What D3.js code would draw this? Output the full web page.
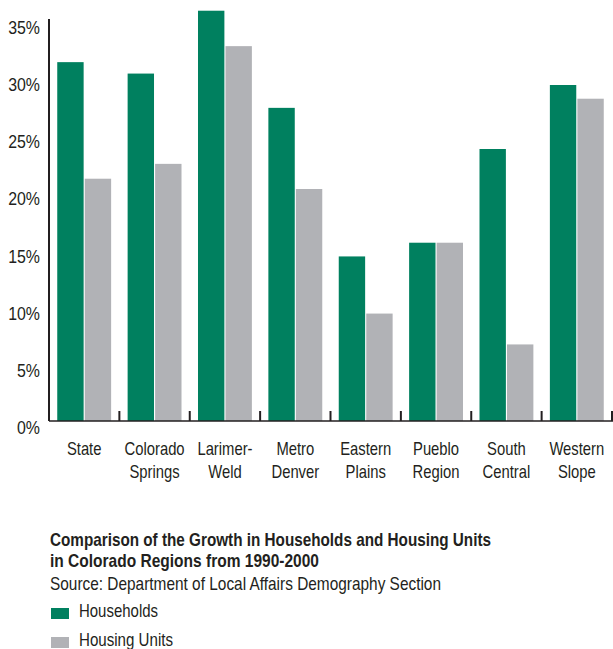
<!DOCTYPE html>
<html>
<head>
<meta charset="utf-8">
<script src="https://cdn.jsdelivr.net/npm/d3@7"></script>
<style>
  body { margin: 0; background: #fff; }
  svg text { font-family: "Liberation Sans", Arial, sans-serif; fill: #231f20; }
</style>
</head>
<body>
<svg id="chart"></svg>
<script>
// data
const regions = ["State", "Colorado Springs", "Larimer-Weld", "Metro Denver", "Eastern Plains", "Pueblo Region", "South Central", "Western Slope"];
const regionLines = [["State"], ["Colorado", "Springs"], ["Larimer-", "Weld"], ["Metro", "Denver"], ["Eastern", "Plains"], ["Pueblo", "Region"], ["South", "Central"], ["Western", "Slope"]];
const households = [31.4, 30.4, 35.9, 27.4, 14.4, 15.6, 23.8, 29.4];
const housingUnits = [21.2, 22.5, 32.8, 20.3, 9.4, 15.6, 6.7, 28.2];
const yTicks = [0, 5, 10, 15, 20, 25, 30, 35];
const seriesNames = ["Households", "Housing Units"];
const colors = ["#00805f", "#b1b2b6"];

const W = 613, H = 649;
const margin = { top: 19, left: 49, right: 1 };
const baseY = 421;

const svg = d3.select("#chart").attr("width", W).attr("height", H);

// scales
const x0 = d3.scaleBand()
    .domain(regions)
    .range([margin.left, W - margin.right])
    .paddingInner(0)
    .paddingOuter(0);

const x1 = d3.scaleBand()
    .domain(seriesNames)
    .range([0, x0.bandwidth()])
    .paddingInner(0.04)
    .paddingOuter(0.3);

const y = d3.scaleLinear().domain([0, 35]).range([baseY, baseY - 400]);

// bars
const groups = svg.append("g").selectAll("g")
    .data(regions)
    .enter().append("g")
    .attr("transform", d => `translate(${x0(d)},0)`);

groups.selectAll("rect")
    .data((d, i) => [households[i], housingUnits[i]].map((v, j) => ({ key: seriesNames[j], v, j })))
    .enter().append("rect")
    .attr("x", d => x1(d.key))
    .attr("y", d => y(d.v))
    .attr("width", x1.bandwidth())
    .attr("height", d => baseY - y(d.v))
    .attr("fill", d => colors[d.j]);

// axes
svg.append("line")
    .attr("x1", margin.left).attr("x2", margin.left)
    .attr("y1", margin.top).attr("y2", baseY)
    .attr("stroke", "#231f20").attr("stroke-width", 2);

svg.append("line")
    .attr("x1", margin.left).attr("x2", W)
    .attr("y1", baseY).attr("y2", baseY)
    .attr("stroke", "#231f20").attr("stroke-width", 1.5);

// tick marks at group boundaries
const boundaries = regions.map(r => x0(r)).concat([x0.range()[1]]);
svg.selectAll(".tick-mark")
    .data(boundaries)
    .enter().append("line")
    .attr("class", "tick-mark")
    .attr("x1", d => d).attr("x2", d => d)
    .attr("y1", baseY).attr("y2", baseY - 10)
    .attr("stroke", "#231f20").attr("stroke-width", 2);

// y labels (narrowed, the original face is condensed)
svg.selectAll(".ylab")
    .data(yTicks)
    .enter().append("text")
    .attr("class", "ylab")
    .attr("transform", d => `translate(40,${y(d) + 13}) scale(0.86,1)`)
    .attr("text-anchor", "end")
    .style("font-size", "18.5px")
    .text(d => d + "%");

// x labels
svg.selectAll(".xlab")
    .data(regionLines)
    .enter().append("g")
    .attr("class", "xlab")
    .attr("transform", (d, i) => `translate(${x0(regions[i]) + x0.bandwidth() / 2},0)`)
    .selectAll("text")
    .data(d => d)
    .enter().append("text")
    .attr("text-anchor", "middle")
    .attr("transform", (d, k) => `translate(0,${455 + k * 22.5}) scale(0.8,1)`)
    .style("font-size", "18.5px")
    .text(d => d);

// title + source
const notes = [
    { t: "Comparison of the Growth in Households and Housing Units", y: 546, w: 441, bold: true },
    { t: "in Colorado Regions from 1990-2000", y: 567, w: 269, bold: true },
    { t: "Source: Department of Local Affairs Demography Section", y: 590, w: 391, bold: false }
];
svg.selectAll(".note")
    .data(notes)
    .enter().append("text")
    .attr("class", "note")
    .attr("x", 50).attr("y", d => d.y)
    .attr("textLength", d => d.w)
    .attr("lengthAdjust", "spacingAndGlyphs")
    .style("font-size", "19px")
    .style("font-weight", d => d.bold ? "bold" : "normal")
    .text(d => d.t);

// legend
const legendW = [79, 94];
const legend = svg.selectAll(".legend")
    .data(seriesNames)
    .enter().append("g")
    .attr("class", "legend")
    .attr("transform", (d, i) => `translate(51,${608 + i * 29})`);
legend.append("rect")
    .attr("width", 18).attr("height", 11)
    .attr("fill", (d, i) => colors[i]);
legend.append("text")
    .attr("x", 28).attr("y", 9)
    .attr("textLength", (d, i) => legendW[i])
    .attr("lengthAdjust", "spacingAndGlyphs")
    .style("font-size", "19px")
    .text(d => d);
</script>
</body>
</html>
